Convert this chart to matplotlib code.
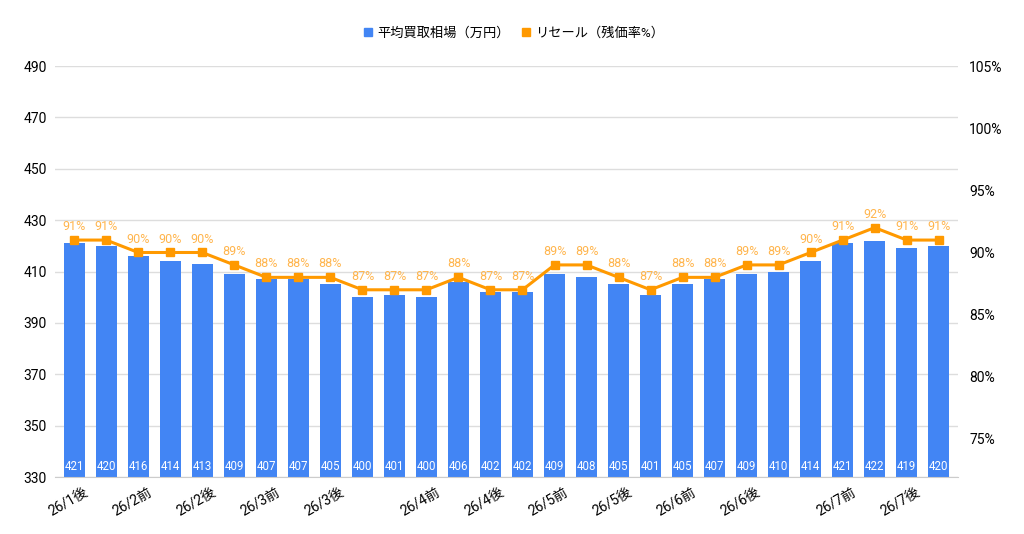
import numpy as np
import matplotlib
matplotlib.use("Agg")
import matplotlib.pyplot as plt
import matplotlib.transforms as mtransforms
from matplotlib.lines import Line2D
from matplotlib.ticker import FuncFormatter

plt.rcParams['font.family'] = ['Roboto', 'Noto Sans CJK JP', 'DejaVu Sans']

# datos
etiquetas = ["26/1後", "", "26/2前", "", "26/2後", "", "26/3前", "", "26/3後", "", "",
             "26/4前", "", "26/4後", "", "26/5前", "", "26/5後", "", "26/6前", "",
             "26/6後", "", "", "26/7前", "", "26/7後", ""]
precio = [421, 420, 416, 414, 413, 409, 407, 407, 405, 400, 401, 400, 406, 402,
          402, 409, 408, 405, 401, 405, 407, 409, 410, 414, 421, 422, 419, 420]
residual = [91, 91, 90, 90, 90, 89, 88, 88, 88, 87, 87, 87, 88, 87,
            87, 89, 89, 88, 87, 88, 88, 89, 89, 90, 91, 92, 91, 91]
nombre_barras = "平均買取相場（万円）"
nombre_linea = "リセール（残価率%）"

azul = "#4285F4"
naranja = "#FF9900"

x = np.arange(len(precio))

fig = plt.figure(figsize=(10.24, 5.34), dpi=100)
ax = fig.add_axes([0.0537, 0.1067, 0.8818, 0.7697])
ax2 = ax.twinx()

ax.bar(x, precio, width=0.65, color=azul, zorder=2)
ax.set_ylim(330, 490)
ax.set_yticks(np.arange(330, 491, 20))
ax.set_xlim(-0.6, len(precio) - 0.4)
ax.grid(axis='y', color='#dddddd', linewidth=1, zorder=0)
ax.set_axisbelow(True)

for xi, v in zip(x, precio):
    ax.annotate(str(v), (xi, 330), xytext=(0, 3), textcoords='offset points',
                ha='center', va='bottom', color='white', fontsize=8.3, zorder=3)

ax2.plot(x, residual, color=naranja, linewidth=2.2, marker='s', markersize=5.5, zorder=4)
ax2.set_ylim(71.94, 105)
ax2.set_yticks(np.arange(75, 106, 5))
ax2.yaxis.set_major_formatter(FuncFormatter(lambda v, p: f"{int(v)}%"))
for xi, r in zip(x, residual):
    ax2.annotate(f"{r}%", (xi, r), xytext=(0, 5), textcoords='offset points',
                 ha='center', va='bottom', color='#FFB54D', fontsize=9)

ax.set_xticks(x)
ax.set_xticklabels(etiquetas, rotation=30, ha='right', rotation_mode='anchor', fontsize=10)
ax.tick_params(axis='x', length=0, pad=6)
desplazo = mtransforms.ScaledTranslation(9 / 100, 0, fig.dpi_scale_trans)
for lbl in ax.get_xticklabels():
    lbl.set_transform(lbl.get_transform() + desplazo)
ax.tick_params(axis='y', length=0, labelsize=10, pad=6)
ax2.tick_params(axis='y', length=0, labelsize=10, pad=8)

for a in (ax, ax2):
    for s in a.spines.values():
        s.set_visible(False)
ax.spines['bottom'].set_visible(True)
ax.spines['bottom'].set_color('#cccccc')

handles = [Line2D([], [], marker='s', linestyle='none', color=azul, markersize=6),
           Line2D([], [], marker='s', linestyle='none', color=naranja, markersize=6)]
fig.legend(handles, [nombre_barras, nombre_linea], loc='center', bbox_to_anchor=(0.5, 0.938),
           ncol=2, frameon=False, fontsize=9.5, handletextpad=0.1, columnspacing=0.6,
           handlelength=1.2)

fig.savefig("out.png", dpi=100)
plt.close()
